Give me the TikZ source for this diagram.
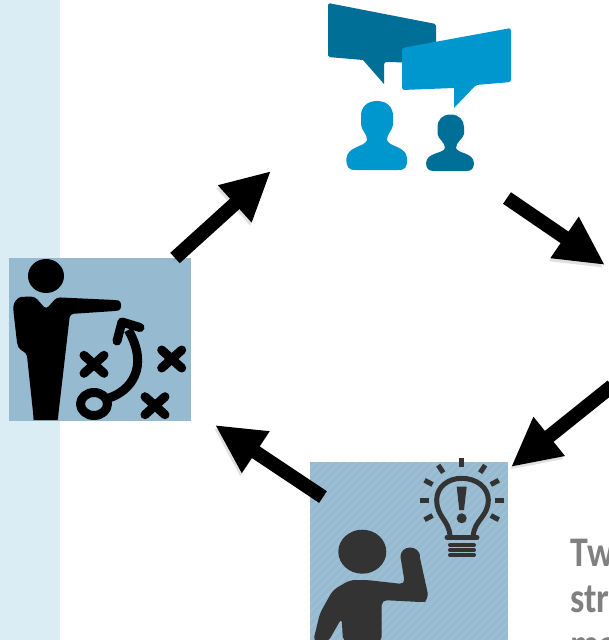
\documentclass[tikz,border=0pt]{standalone}
\usepackage{fontspec}
\usepackage{tikz}
\usetikzlibrary{arrows.meta, positioning}
\setmainfont{Carlito}[FakeStretch=0.85]
\definecolor{bandblue}{HTML}{DAEDF4}
\definecolor{boxblue}{HTML}{96BAD0}
\definecolor{hatchblue}{HTML}{9FC0D4}
\definecolor{bubbledark}{HTML}{006F97}
\definecolor{bubblelight}{HTML}{0097CE}
\definecolor{figuredark}{HTML}{333333}
\definecolor{captiongray}{HTML}{808080}

\begin{document}
\begin{tikzpicture}[
    x=0.02cm, y=-0.02cm,
    iconbox/.style = {fill=boxblue, inner sep=0pt, outer sep=0pt},
    arrow/.style = {line width=0.28cm, -{Triangle[length=0.98cm, width=0.93cm]},
        preaction={draw=black, draw opacity=0.12, transform canvas={xshift=-0.03cm, yshift=-0.06cm}}},
    mark stroke/.style = {draw=black, line width=0.18cm, line cap=round, line join=round},
    bulb stroke/.style = {draw=figuredark, line width=0.1cm, line cap=round},
    caption/.style = {font=\fontsize{24}{26}\selectfont\bfseries, text=captiongray, anchor=base west, inner sep=0pt}
]
\useasboundingbox (0,0) rectangle (609,640);
\clip (0,0) rectangle (609,640);

% Pale band on the left
\fill[bandblue] (0,0) rectangle (60,640);

% Boxes behind the icons
\node[iconbox, minimum width=3.64cm, minimum height=3.26cm] (planbox) at (100,339.5) {};
\node[iconbox, minimum width=3.96cm, minimum height=3.56cm] (ideabox) at (409,551) {};

% Stripes on the lower box
\begin{scope}
\clip (310,462) rectangle (508,640);
\foreach \i in {130,138,...,510}
    \draw[hatchblue, line width=0.04cm] (\i,640) -- (\i+178,462);
\end{scope}

% Speech bubbles
\fill[bubbledark, rounded corners=1pt] (328,3) -- (436,24) -- (436,63) -- (384,62) [sharp corners] -- (384,84) -- (363,60) [rounded corners=1pt] -- (328,57) -- cycle;
\fill[bubblelight, rounded corners=1pt] (402,48) -- (511,28) -- (511,82) -- (476,85) [sharp corners] -- (454,108) -- (454,88) [rounded corners=1pt] -- (402,90) -- cycle;

% Two people under the bubbles
\fill[bubblelight] (377,101) .. controls (387,101) and (393,107) .. (393,116) -- (393,125) .. controls (392,131) and (387,134) .. (387,140)
    .. controls (389,147) and (406,146) .. (407,158)
    .. controls (407.5,168) and (405,170) .. (398,170) -- (356,170) .. controls (349,170) and (346,168) .. (346.5,158)
    .. controls (348,146) and (365,147) .. (367,140) .. controls (367,134) and (362,131) .. (361,125) -- (361,116)
    .. controls (361,107) and (367,101) .. (377,101) -- cycle;
\fill[bubbledark] (450.7,114.5) .. controls (459,114.5) and (464,120) .. (464,127) -- (464,134) .. controls (463,139) and (456,142) .. (456,148)
    .. controls (458,154) and (473,152) .. (474,163)
    .. controls (474,169) and (471,171) .. (466,171) -- (434,171) .. controls (429,171) and (426,169) .. (426,163)
    .. controls (427,152) and (443,154) .. (445,148) .. controls (445,142) and (438,139) .. (437.5,134) -- (437.5,127)
    .. controls (437.5,120) and (442,114.5) .. (450.7,114.5) -- cycle;

% Figure pointing at the play
\fill[black] (46,276) ellipse (18 and 17);
\fill[black, rounded corners=2pt] (13.3,310) .. controls (13.5,302) and (18,297) .. (25,296.7) -- (35,296.7) -- (46,309.3) -- (56.7,297.3)
    -- (115,300) .. controls (122,301) and (122,310) .. (115,311) -- (70,314) -- (58.3,415)
    .. controls (58,419) and (56,420) .. (55,420) -- (36.7,420) .. controls (35,420) and (33.5,419) .. (33.3,415)
    -- (26.7,353) -- (20,350) -- (17.3,345) -- cycle;

% Crosses and the curved move
\foreach \cx/\cy in {94/364.3, 171.7/359, 155/405.7} {
    \draw[mark stroke] (\cx-10,\cy-9) -- (\cx+10,\cy+9);
    \draw[mark stroke] (\cx-10,\cy+9) -- (\cx+10,\cy-9);
}
\draw[mark stroke] (94,404) ellipse (13.5 and 11.5);
\draw[mark stroke, line cap=butt] (109,398) .. controls (130,391) and (150,368) .. (128.3,330);
\draw[mark stroke] (117,341) -- (122,322) -- (140,327.5);

% Figure with an idea
\fill[figuredark] (362.3,551.7) ellipse (24 and 22);
\fill[figuredark, rounded corners=3pt] (313,642) -- (320,613) -- (333,590) -- (350,580) -- (367,580) -- (405,584.3) [sharp corners] -- (400.7,558)
    .. controls (399,544) and (421,544) .. (420,558) -- (427.7,593) [rounded corners=3pt] .. controls (428,600) and (424,602) .. (420,602)
    -- (381.7,600) -- (381.7,642) -- (343,642) -- (341.7,618) -- (328,642) -- cycle;

% Light bulb
\coordinate (bulb) at (461.7,500);
\draw[bulb stroke] (450,536) .. controls (449,520) and (436.7,517) .. (436.7,500)
    .. controls (436.7,487) and (448,478.3) .. (461.7,478.3)
    .. controls (476,478.3) and (488.3,487) .. (488.3,500)
    .. controls (488.3,517) and (474,520) .. (473.3,536);
\fill[figuredark] (456.7,486.7) -- (466.7,486.7) -- (464,510) -- (459.3,510) -- cycle;
\fill[figuredark] (461.7,518.3) circle (5);
\draw[bulb stroke] (447,537.5) -- (477,537.5);
\foreach \by in {545,550,555}
    \draw[bulb stroke, line width=0.08cm] (450,\by) -- (474,\by);
\begin{scope}[shift={(bulb)}]
\foreach \a in {0,28,56,90,124,152,180,208,332}
    \draw[figuredark, line width=0.1cm] (\a:-33) -- (\a:-42);
\end{scope}

% Arrows between the icons
\coordinate (talkin) at (271,171);
\coordinate (planout) at (175,258);
\coordinate (talkout) at (507,198);
\coordinate (rightin) at (605,265);
\coordinate (rightout) at (612,386);
\coordinate (ideain) at (511,467);
\coordinate (ideaout) at (323,497);
\coordinate (planin) at (215,425);
\draw[arrow] (planout) -- (talkin);
\draw[arrow] (talkout) -- (rightin);
\draw[arrow] (rightout) -- (ideain);
\draw[arrow] (ideaout) -- (planin);

% Caption, cut off by the edge
\node[caption] (captiontop) at (570,566.5) {Tw};
\node[caption] (captionmid) at (570,612.5) {stra};
\node[caption] (captionlow) at (570,658.5) {ma};

\end{tikzpicture}
\end{document}
